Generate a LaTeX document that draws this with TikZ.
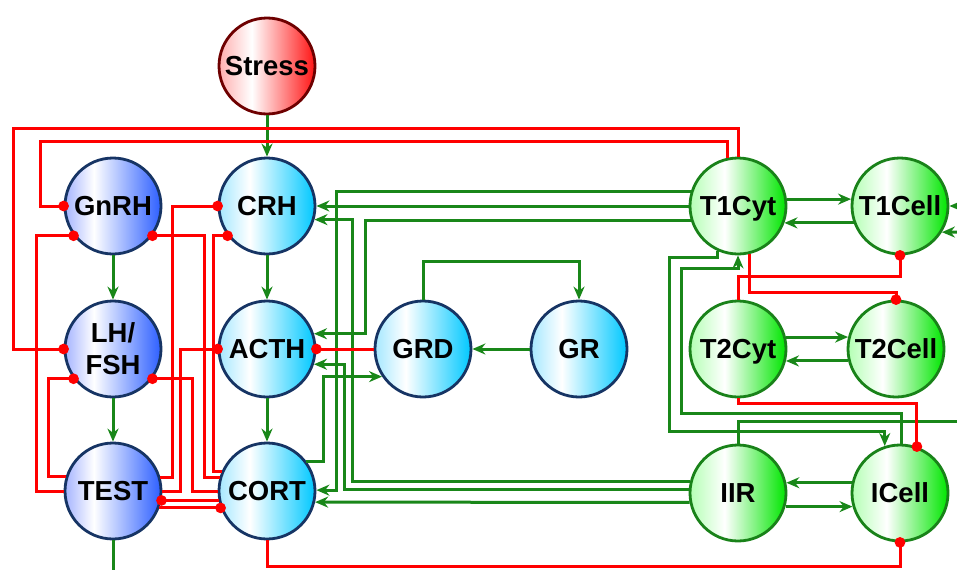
\documentclass[tikz,border=0pt]{standalone}
\usepackage{fontspec}
\setmainfont{Liberation Sans}
\usetikzlibrary{arrows.meta}
\definecolor{lgreen}{RGB}{25,135,25}
\definecolor{lred}{RGB}{255,0,0}
\definecolor{navyb}{RGB}{22,52,100}
\definecolor{greenb}{RGB}{25,130,25}
\definecolor{redb}{RGB}{110,0,0}
\definecolor{bL}{RGB}{165,180,255}
\definecolor{bR}{RGB}{45,95,255}
\definecolor{cL}{RGB}{165,232,255}
\definecolor{cR}{RGB}{0,200,255}
\definecolor{gL}{RGB}{180,255,180}
\definecolor{gR}{RGB}{0,230,0}
\definecolor{rL}{RGB}{255,175,175}
\definecolor{rR}{RGB}{255,20,20}
\pgfdeclarehorizontalshading{blueball}{100bp}{color(0bp)=(bL); color(25bp)=(bL); color(40bp)=(white); color(75bp)=(bR); color(100bp)=(bR)}
\pgfdeclarehorizontalshading{cyanball}{100bp}{color(0bp)=(cL); color(25bp)=(cL); color(41bp)=(white); color(75bp)=(cR); color(100bp)=(cR)}
\pgfdeclarehorizontalshading{greenball}{100bp}{color(0bp)=(gL); color(25bp)=(gL); color(43bp)=(white); color(75bp)=(gR); color(100bp)=(gR)}
\pgfdeclarehorizontalshading{redball}{100bp}{color(0bp)=(rL); color(25bp)=(rL); color(42bp)=(white); color(75bp)=(rR); color(100bp)=(rR)}
\begin{document}
\begin{tikzpicture}[x=1pt,y=-1pt,
  nd/.style={circle,minimum size=96pt,inner sep=0pt,line width=2.8pt,font=\bfseries\fontsize{27.5}{32}\selectfont},
  one/.style={text depth=0pt},
  bluen/.style={nd,draw=navyb,shading=blueball},
  cyann/.style={nd,draw=navyb,shading=cyanball},
  greenn/.style={nd,draw=greenb,shading=greenball},
  redn/.style={nd,draw=redb,shading=redball},
  act/.style={draw=lgreen,line width=3pt,-{Stealth[length=13pt,width=11pt]}},
  inh/.style={draw=lred,line width=3pt,-{Circle[length=10.5pt]},shorten >=-5.25pt},
  plain/.style={draw=lgreen,line width=3pt}
]
\useasboundingbox (0,0) rectangle (957,570);
% nodes
\node[redn,one] (Stress) at (267,66) {Stress};
\node[bluen,one] (GnRH) at (113,206) {GnRH};
\node[cyann,one] (CRH) at (267,206) {CRH};
\node[bluen,align=center] (LH) at (113,349) {LH/\\FSH};
\node[cyann,one] (ACTH) at (267,349) {ACTH};
\node[cyann,one] (GRD) at (423,349) {GRD};
\node[cyann,one] (GR) at (579,349) {GR};
\node[bluen,one] (TEST) at (113,491) {TEST};
\node[cyann,one] (CORT) at (267,491) {CORT};
\node[greenn,one] (T1Cyt) at (738,206) {T1Cyt};
\node[greenn,one] (T1Cell) at (900,206) {T1Cell};
\node[greenn,one] (T2Cyt) at (738,349) {T2Cyt};
\node[greenn,one] (T2Cell) at (896,349) {T2Cell};
\node[greenn,one] (IIR) at (738,493) {IIR};
\node[greenn,one] (ICell) at (900,493) {ICell};
\coordinate (testout) at (113,570);
\coordinate (r1) at (957,206);
\coordinate (r2) at (957,232);
\coordinate (r3) at (957,421);
% activating connectors
\draw[act] (Stress) -- (CRH);
\draw[act] (GnRH) -- (LH);
\draw[act] (LH) -- (TEST);
\draw[act] (CRH) -- (ACTH);
\draw[act] (ACTH) -- (CORT);
\draw[plain] (TEST) -- (testout);
\draw[act] (GR) -- (GRD);
\draw[act] (GRD.north) -- ++(0,-38) -| (GR.north);
\draw[act] (CORT.37) -| (GRD.214 -| 323,0) -- (GRD.214);
\draw[act] (T1Cyt) -- (CRH);
\draw[act] (T1Cyt.163) -| (CORT.1 -| 336,0) -- (CORT.1);
\draw[act] (T1Cyt.197) -| (ACTH.18 -| 365,0) -- (ACTH.18);
\draw[act] (IIR.167) -| (CRH.-16 -| 352,0) -- (CRH.-16);
\draw[act] (IIR.176) -| (ACTH.-18 -| 344,0) -- (ACTH.-18);
\draw[act] (IIR.191) -- (CORT.-13);
\draw[act] (T1Cyt.8) -- (T1Cell.172);
\draw[act] (T1Cell.200) -- (T1Cyt.-20);
\draw[act] (r1) -- (T1Cell.east);
\draw[act] (r2) -- (T1Cell.-32);
\draw[act] (T2Cyt.14) -- (T2Cell.166);
\draw[act] (T2Cell.194) -- (T2Cyt.-14);
\draw[act] (T1Cyt.245) |- (669,257) |- (ICell.108 |- 0,431) -- (ICell.108);
\draw[act] (ICell.88) |- (681,413) |- (T1Cyt.south |- 0,268) -- (T1Cyt.south);
\draw[plain] (IIR.north) |- (r3);
\draw[act] (ICell.168) -- (IIR.12);
\draw[act] (IIR.-16) -- (ICell.196);
% inhibiting connectors
\draw[inh] (GRD) -- (ACTH);
\draw[inh] (T1Cyt.north) |- (13,128) |- (LH.west);
\draw[inh] (T1Cyt.102) |- (40,141) |- (GnRH.west);
\draw[inh] (T2Cyt.north) |- (T1Cell.south |- 0,276) -- (T1Cell.south);
\draw[inh] (T1Cyt.284) |- (T2Cell.north |- 0,292) -- (T2Cell.north);
\draw[inh] (T2Cyt.south) |- (ICell.70 |- 0,403) -- (ICell.70);
\draw[inh] (CORT.south) |- (ICell.south |- 0,566) -- (ICell.south);
\draw[inh] (TEST.west) -| (GnRH.217 -| 36,0) -- (GnRH.217);
\draw[inh] (CORT.164) -| (GnRH.-37 -| 204,0) -- (GnRH.-37);
\draw[inh] (TEST.163) -| (LH.217 -| 48,0) -- (LH.217);
\draw[inh] (CORT.west) -| (LH.-37 -| 192,0) -- (LH.-37);
\draw[inh] (TEST.16) -| (CRH.west -| 172,0) -- (CRH.west);
\draw[inh] (CORT.157) -| (CRH.217 -| 213,0) -- (CRH.217);
\draw[inh] (TEST.east) -| (ACTH.west -| 180,0) -- (ACTH.west);
\draw[inh] (CORT.191) -- (TEST.-11);
\draw[inh] (TEST.-20) -- (CORT.200);
\end{tikzpicture}
\end{document}
